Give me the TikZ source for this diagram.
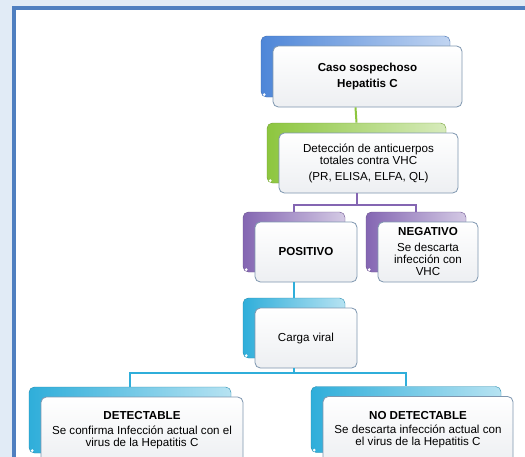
\documentclass[tikz,border=0pt]{standalone}
\usepackage{fontspec}
\setmainfont{Liberation Sans}
\usetikzlibrary{positioning}

\definecolor{fondo}{HTML}{E1EBF6}
\definecolor{marco}{HTML}{4F7FC0}
\definecolor{borde}{HTML}{7F97B0}
\definecolor{relleno}{HTML}{EDEFF2}
\definecolor{azul}{HTML}{4E86D8}
\definecolor{verde}{HTML}{8DC63F}
\definecolor{morado}{HTML}{8466B2}
\definecolor{celeste}{HTML}{2FAEDA}

\tikzset{
  caja/.style={draw=borde, line width=0.6pt, rounded corners=4pt,
    top color=white, bottom color=relleno, align=center,
    font=\fontsize{8.7}{9}\selectfont, minimum height=45pt, inner sep=2pt,
    preaction={draw=#1!80!black, line width=0.3pt, left color=#1,
      right color=#1!35!white, transform canvas={shift={(-9pt,7.5pt)}}}},
  rama/.style={draw=#1, line width=1.5pt}
}

\begin{document}
\begin{tikzpicture}[x=0.75pt,y=-0.75pt]
        \useasboundingbox (0,0) rectangle (525,457);
        \clip (0,0) rectangle (525,457);
        % marco
        \fill[fondo] (0,0) rectangle (525,457);
        \fill[white] (14,8) rectangle (530,470);
        \draw[marco, line width=3pt] (14,470) -- (14,8) -- (530,8);

        \node[caja=azul, minimum width=141.75pt, minimum height=45.75pt] (caso) at (367.5,76.5)
            {\textbf{Caso sospechoso}\\[3pt]\textbf{Hepatitis C}};
        \node[caja=verde, minimum width=134.25pt] (det) at (368.5,163)
            {Detección de anticuerpos\\totales contra VHC\\[3pt](PR, ELISA, ELFA, QL)};
        \node[caja=morado, minimum width=76.5pt] (pos) at (306,252) {\textbf{POSITIVO}};
        \node[caja=morado, minimum width=75pt] (neg) at (428,252)
            {\textbf{NEGATIVO}\\[3pt]Se descarta\\infección con\\VHC};
        \node[caja=celeste, minimum width=76.5pt] (carga) at (306,338) {Carga viral};
        \node[caja=celeste, minimum width=151.5pt, minimum height=49.5pt] (detect) at (142,430)
            {\textbf{DETECTABLE}\\[2pt]Se confirma Infección actual con el\\virus de la Hepatitis C};
        \node[caja=celeste, minimum width=142.5pt, minimum height=49.5pt] (nodet) at (418,429.5)
            {\textbf{NO DETECTABLE}\\[2pt]Se descarta infección actual con\\el virus de la Hepatitis C};

        \foreach \n in {caso,det,pos,neg,carga,detect,nodet}
            \fill[white] ([shift={(-6.3pt,9.6pt)}]\n.south west) circle (1.1pt);

        % conectores
        \draw[rama=verde] ([xshift=-9pt]caso.south) -- ([shift={(-9pt,7.5pt)}]det.north);
        \draw[rama=morado] ([xshift=-9pt]det.south) -- ++(0,12) coordinate (nudo1)
            -| ([shift={(-9pt,7.5pt)}]pos.north);
        \draw[rama=morado] (nudo1) -| ([shift={(-9pt,7.5pt)}]neg.north);
        \draw[rama=celeste] ([xshift=-9pt]pos.south) -- ([shift={(-9pt,7.5pt)}]carga.north);
        \draw[rama=celeste] ([xshift=-9pt]carga.south) -- ++(0,5) coordinate (nudo2)
            -| ([shift={(-9pt,7.5pt)}]detect.north);
        \draw[rama=celeste] (nudo2) -| ([shift={(-9pt,7.5pt)}]nodet.north);
\end{tikzpicture}
\end{document}
